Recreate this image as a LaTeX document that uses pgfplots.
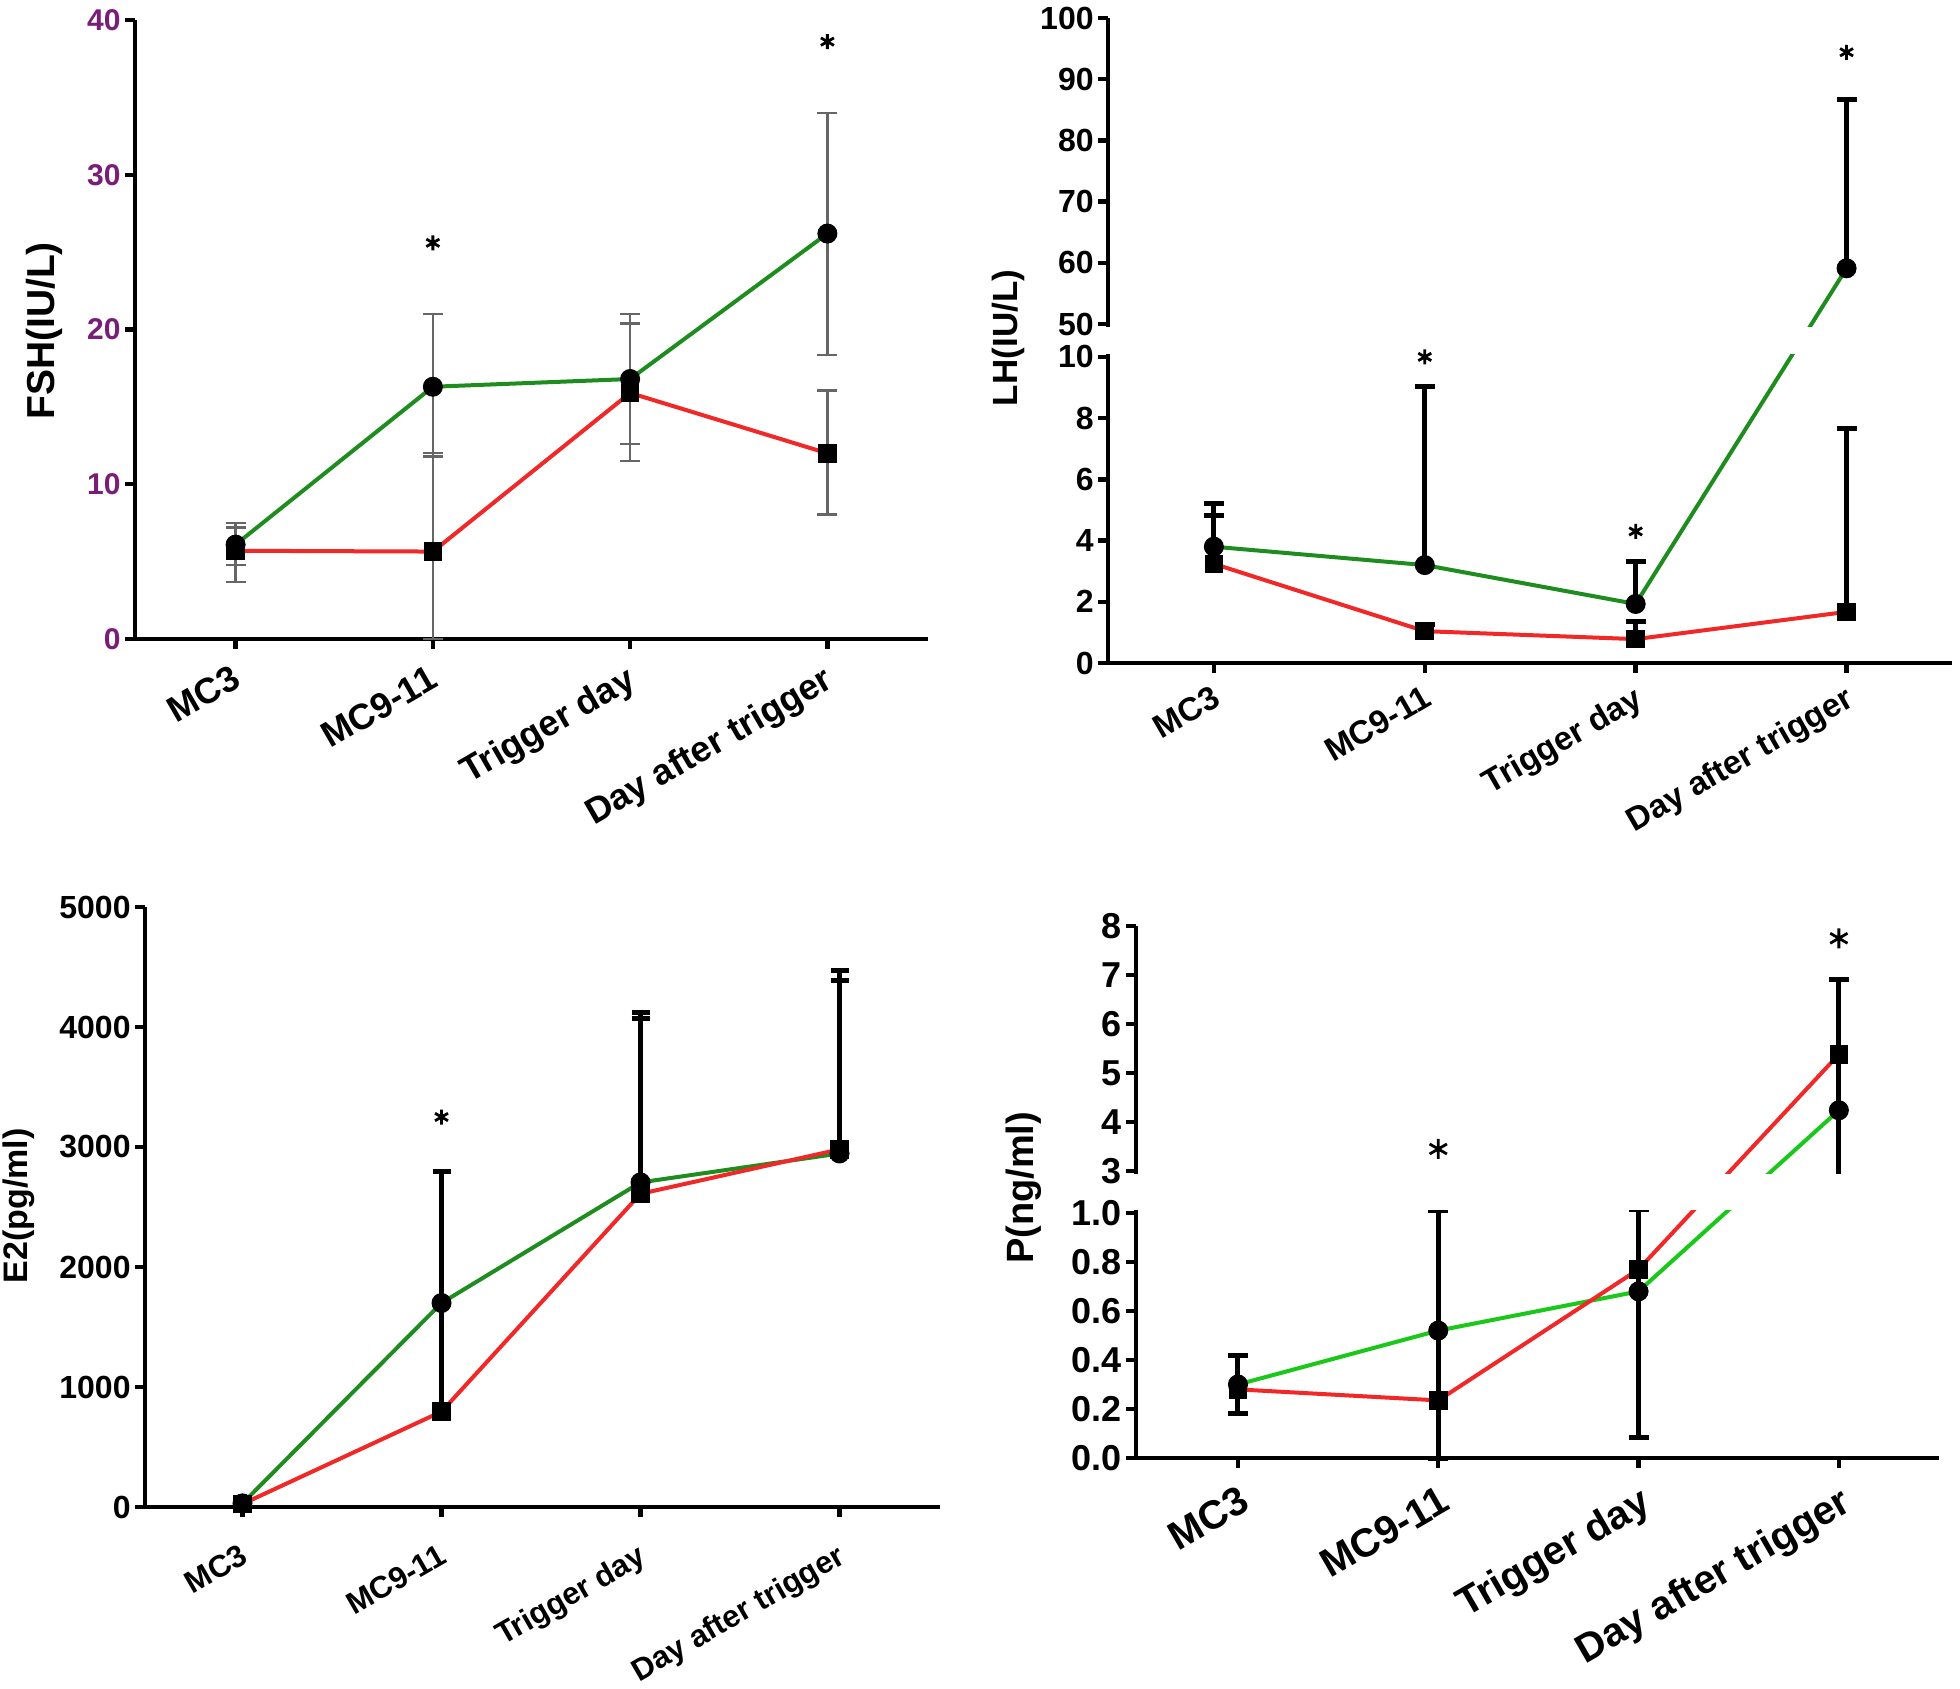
\documentclass[border=0pt]{standalone}
\usepackage{fontspec}
\setmainfont{Liberation Sans}
\usepackage{pgfplots}
\usepackage{pgfplotstable}
\pgfplotsset{compat=1.18}

\definecolor{gpgreen}{RGB}{30,140,30}
\definecolor{gplime}{RGB}{25,200,25}
\definecolor{gpred}{RGB}{240,40,40}
\definecolor{gppurple}{RGB}{120,30,120}

% broken y scales: 0-10 | 50-100 (LH) and 0-1 | 3-8 (P)
\tikzset{declare function={
  lhT(\v)=(\v<=10) ? \v : ((\v>=50) ? 11.078+(\v-50)*0.2 : 10+(\v-10)*0.02695);
  pT(\v)=(\v<=1) ? \v : ((\v>=3) ? 1.171+(\v-3)*0.2 : 1+(\v-1)*0.0855);
}}

% columns: category, mean, error up, error down
\pgfplotstableread{
x y ep em
0 6.1 1.4 1.3
1 16.3 4.7 4.5
2 16.8 4.2 4.2
3 26.2 7.8 7.85
}\fshG
\pgfplotstableread{
x y ep em
0 5.7 1.5 2.0
1 5.65 6.35 5.65
2 15.9 4.5 4.4
3 12.0 4.05 3.95
}\fshR
\pgfplotstableread{
x y ep em
0 3.8 1.4 0
1 3.2 5.84 0
2 1.93 1.4 0
3 59.1 27.6 0
}\lhG
\pgfplotstableread{
x y ep em
0 3.24 1.59 0
1 1.04 0.21 0
2 0.78 0.59 0
3 1.67 5.98 0
}\lhR
\pgfplotstableread{
x y ep em
0 30 20 0
1 1700 1097 0
2 2705 1412 0
3 2946 1442 0
}\eG
\pgfplotstableread{
x y ep em
0 25 20 0
1 795 900 0
2 2610 1463 0
3 2980 1495 0
}\eR
\pgfplotstableread{
x y ep em
0 0.30 0.117 0.12
1 0.52 0.60 0.52
2 0.68 0.50 0.595
3 4.24 2.66 1.74
}\pG
\pgfplotstableread{
x y ep em
0 0.28 0.137 0.10
1 0.235 0.885 0.235
2 0.77 0.40 0.685
3 5.38 1.52 2.88
}\pR

\pgfplotsset{
  gp/.style={
    scale only axis,
    anchor=south west,
    axis x line*=bottom, axis y line*=left,
    axis line style={line width=2.2pt},
    major tick style={line width=2.2pt, black},
    tick align=outside,
    major tick length=5pt,
    xtick={0,1,2,3},
    xticklabels={MC3,MC9-11,Trigger day,Day after trigger},
    xticklabel style={rotate=30, anchor=north east, inner sep=2pt},
    yticklabel style={inner sep=2pt},
    /pgf/number format/assume math mode=true,
    /pgf/number format/1000 sep={},
    clip=false,
  },
  grn/.style={line width=2pt, mark=*, mark size=4.75pt,
    mark options={fill=black, draw=black, line width=0.5pt, solid}},
  rd/.style={line width=2pt, mark=square*, mark size=4.4pt,
    mark options={fill=black, draw=black, line width=0.5pt, solid}},
  star/.style={only marks, mark=asterisk, mark size=#1, line width=1.4pt, black},
  thinbars/.style={error bars/error bar style={line width=1.2pt, black!60},
    error bars/error mark options={rotate=90, line width=1.2pt, mark size=5pt, black!60}},
  thickbars/.style={error bars/error bar style={line width=2.5pt, black},
    error bars/error mark options={rotate=90, line width=2.5pt, mark size=#1, black}},
}

\begin{document}
\begin{tikzpicture}
\useasboundingbox (0,0) rectangle (980pt,844pt);

% ---------- FSH ----------
\begin{axis}[gp, thinbars, at={(67.5pt,524.5pt)}, width=396.5pt, height=309.5pt,
  xmin=-0.51, xmax=3.51, ymin=0, ymax=40, ytick={0,10,20,30,40},
  yticklabel style={font=\bfseries\fontsize{15}{15}\selectfont, text=gppurple},
  xticklabel style={font=\bfseries\fontsize{18}{18}\selectfont, xshift=-4pt, yshift=-3pt},
  error bars/y dir=both, error bars/y explicit]
\addplot[grn, gpgreen] table[x=x, y=y, y error plus=ep, y error minus=em] {\fshG};
\addplot[rd, gpred] table[x=x, y=y, y error plus=ep, y error minus=em] {\fshR};
\addplot[star=3.75pt] coordinates {(1,25.6) (3,38.6)};
\end{axis}
\node[rotate=90, font=\bfseries\fontsize{19.5}{20}\selectfont] at (22pt,678.5pt) {FSH(IU/L)};

% ---------- LH (broken axis) ----------
\begin{axis}[gp, thickbars=5pt, at={(554pt,512.5pt)}, width=422pt, height=322.5pt,
  xmin=-0.502, xmax=3.5, ymin=0, ymax=100,
  y coord trafo/.code={\pgfmathparse{lhT(#1)}},
  ytick={0,2,4,6,8,10,50,60,70,80,90,100},
  yticklabels={0,2,4,6,8,10,50,60,70,80,90,100},
  yticklabel style={font=\bfseries\fontsize{16}{16}\selectfont},
  xticklabel style={font=\bfseries\fontsize{16.5}{16.5}\selectfont, xshift=-2pt, yshift=-2pt},
  error bars/y dir=plus, error bars/y explicit]
\addplot[grn, gpgreen] table[x=x, y=y,
  y error plus expr={lhT(\thisrow{y}+\thisrow{ep})-lhT(\thisrow{y})}] {\lhG};
\addplot[rd, gpred] table[x=x, y=y,
  y error plus expr={lhT(\thisrow{y}+\thisrow{ep})-lhT(\thisrow{y})}] {\lhR};
\addplot[star=3.75pt] coordinates {(1,10.1) (2,4.3) (3,94.4)};
\fill[white] ([yshift=1.3pt]axis cs:-0.55,10) rectangle ([yshift=-1.3pt]axis cs:3.6,50);
\end{axis}
\node[rotate=90, font=\bfseries\fontsize{17.5}{18}\selectfont] at (504pt,675pt) {LH(IU/L)};

% ---------- E2 ----------
\begin{axis}[gp, thickbars=4.5pt, at={(72.5pt,90.5pt)}, width=397.5pt, height=300pt,
  xmin=-0.49, xmax=3.505, ymin=0, ymax=5000, ytick={0,1000,2000,3000,4000,5000},
  yticklabel style={font=\bfseries\fontsize{16}{16}\selectfont},
  xticklabel style={font=\bfseries\fontsize{15.5}{15.5}\selectfont, xshift=-6pt, yshift=-8pt},
  error bars/y dir=plus, error bars/y explicit]
\addplot[grn, gpgreen] table[x=x, y=y, y error plus=ep] {\eG};
\addplot[rd, gpred] table[x=x, y=y, y error plus=ep] {\eR};
\addplot[star=3.75pt] coordinates {(1,3250)};
\end{axis}
\node[rotate=90, font=\bfseries\fontsize{17}{17}\selectfont] at (9.5pt,241pt) {E2(pg/ml)};

% ---------- P (broken axis) ----------
\begin{axis}[gp, thickbars=5pt, at={(568pt,115pt)}, width=401.5pt, height=266pt,
  xmin=-0.509, xmax=3.5, ymin=0, ymax=8,
  y coord trafo/.code={\pgfmathparse{pT(#1)}},
  ytick={0,0.2,0.4,0.6,0.8,1,3,4,5,6,7,8},
  yticklabels={0.0,0.2,0.4,0.6,0.8,1.0,3,4,5,6,7,8},
  yticklabel style={font=\bfseries\fontsize{18}{18}\selectfont},
  xticklabel style={font=\bfseries\fontsize{20}{20}\selectfont, xshift=-2pt, yshift=-5pt},
  error bars/y dir=both, error bars/y explicit]
\addplot[grn, gplime] table[x=x, y=y,
  y error plus expr={pT(\thisrow{y}+\thisrow{ep})-pT(\thisrow{y})},
  y error minus expr={pT(\thisrow{y})-pT(\thisrow{y}-\thisrow{em})}] {\pG};
\addplot[rd, gpred] table[x=x, y=y,
  y error plus expr={pT(\thisrow{y}+\thisrow{ep})-pT(\thisrow{y})},
  y error minus expr={pT(\thisrow{y})-pT(\thisrow{y}-\thisrow{em})}] {\pR};
\addplot[star=5pt] coordinates {(1,3.45) (3,7.75)};
\fill[white] ([yshift=1.3pt]axis cs:-0.55,1) rectangle ([yshift=-1.3pt]axis cs:3.6,3);
\end{axis}
\node[rotate=90, font=\bfseries\fontsize{19}{19}\selectfont] at (512pt,250pt) {P(ng/ml)};
\end{tikzpicture}
\end{document}
